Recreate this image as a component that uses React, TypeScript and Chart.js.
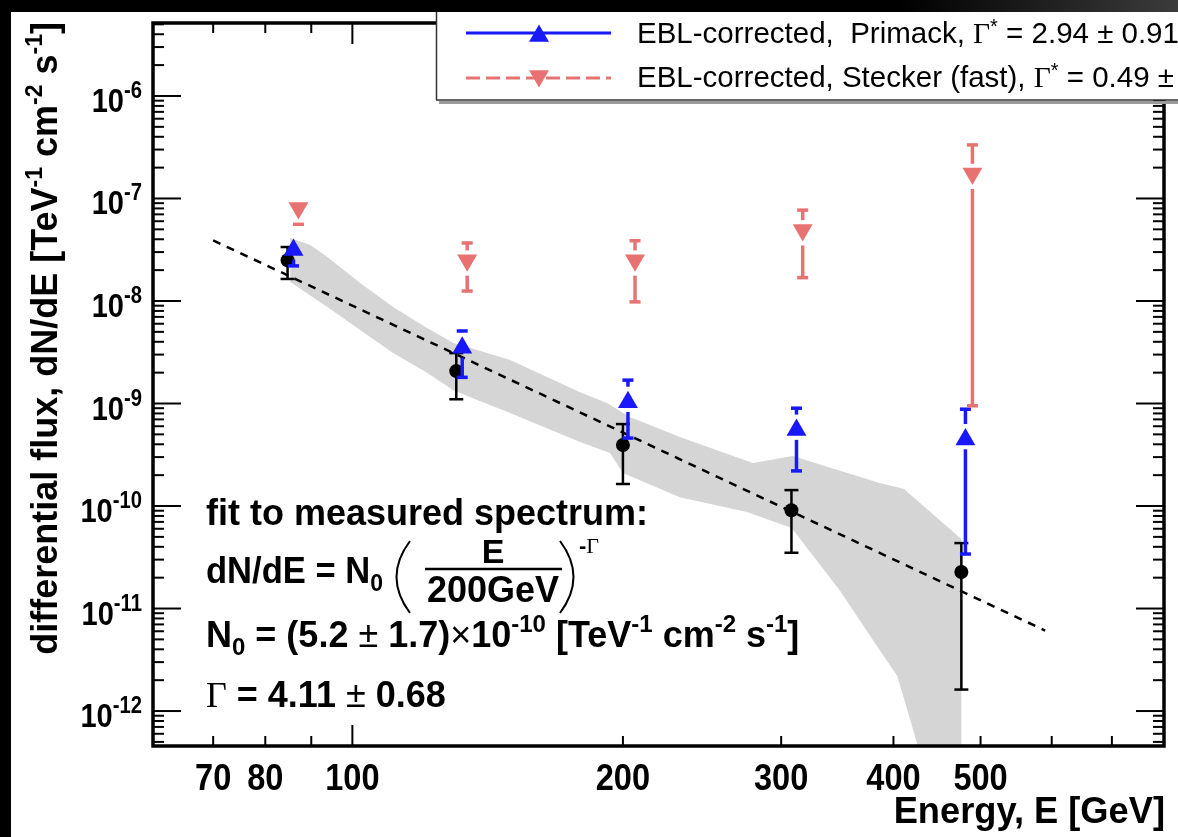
import React, { useEffect, useRef } from 'react';
import { Chart, registerables } from 'chart.js';

Chart.register(...registerables);

// ---------------- data ----------------
const measuredE = [84.7, 130.5, 200, 308, 476];
const measuredF = [2.5e-8, 2.07e-9, 3.94e-10, 9.1e-11, 2.27e-11];
const measuredLo = [1.64e-8, 1.1e-9, 1.64e-10, 3.5e-11, 1.62e-12];
const measuredHi = [3.36e-8, 3.1e-9, 6.3e-10, 1.43e-10, 4.35e-11];

const primackE = [86, 132.5, 202.6, 312, 481];
const primackF = [3.15e-8, 3.5e-9, 1.03e-9, 5.5e-10, 4.45e-10];
const primackLo = [2.2e-8, 1.8e-9, 4.6e-10, 2.2e-10, 3.4e-11];
const primackHi = [3.9e-8, 5.1e-9, 1.69e-9, 9.0e-10, 8.8e-10];

const steckerE = [87.1, 134.2, 206.3, 317, 489.7];
const steckerF = [8.07e-8, 2.5e-8, 2.5e-8, 4.93e-8, 1.75e-7];
const steckerLo = [5.6e-8, 1.25e-8, 9.8e-9, 1.69e-8, 9.5e-10];
const steckerHi = [9.0e-8, 3.68e-8, 3.87e-8, 7.7e-8, 3.33e-7];

const fitE = [70, 590];
const fitF = [3.9e-8, 6.1e-12];

const bandE = [
  85.3, 89.8, 93.8, 102, 111, 121.1, 129.5, 137.7, 149.8, 179.2, 192, 203.6, 231.4, 279, 309, 386, 410.6, 476, 476,
  427, 426, 404, 386, 348.5, 308.2, 274.8, 231.4, 200, 193.5, 179.2, 149.8, 137.7, 129.5, 121.1, 111, 102, 93.8, 85.3,
];
const bandF = [
  4.12e-8, 3.52e-8, 2.69e-8, 1.5e-8, 8.73e-9, 5.45e-9, 3.89e-9, 3.33e-9, 2.66e-9, 1.29e-9, 1.01e-9, 7.38e-10, 4.71e-10,
  2.63e-10, 3.08e-10, 1.68e-10, 1.47e-10, 4.76e-11, 1e-13,
  1e-13, 4.5e-13, 2.2e-12, 3.94e-12, 1.51e-11, 6.1e-11, 8.73e-11, 1.22e-10, 2.1e-10, 3.29e-10, 4.21e-10, 8.07e-10, 1.08e-9,
  1.35e-9, 1.99e-9, 3.11e-9, 5.21e-9, 8.73e-9, 1.53e-8,
];

const xMin = 60;
const xMax = 800;
const yMin = 4.56e-13;
const yMax = 5.15e-6;

const xTickLabels = [70, 80, 100, 200, 300, 400, 500];
const xMinorTicks = [70, 80, 90, 200, 300, 400, 500, 600, 700];
const xMajorTicks = [100];
const yDecades = [-12, -11, -10, -9, -8, -7, -6];

const legendLabels = ['EBL-corrected,  Primack, ', 'EBL-corrected, Stecker (fast), '];
const legendValues = [' = 2.94 \u00b1 0.91', ' = 0.49 \u00b1'];

const RED = 'rgb(232,114,114)';
const BLUE = 'rgb(24,24,250)';
const GREY = 'rgb(213,213,213)';

// ---------------- helpers ----------------
type Run = { t: string; size: number; bold?: boolean; serif?: boolean; dy?: number };

const SANS = '"Liberation Sans", Arial, Helvetica, sans-serif';
const SERIF = '"Liberation Serif", "Times New Roman", serif';

function fontOf(r: Run) {
  return `${r.bold ? 'bold ' : ''}${r.size}px ${r.serif ? SERIF : SANS}`;
}

function drawRuns(
  ctx: CanvasRenderingContext2D,
  runs: Run[],
  x: number,
  y: number,
  align: 'left' | 'right' | 'center' = 'left',
  sx = 1,
) {
  let w = 0;
  for (const r of runs) {
    ctx.font = fontOf(r);
    w += ctx.measureText(r.t).width;
  }
  const W = w * sx;
  const start = align === 'right' ? x - W : align === 'center' ? x - W / 2 : x;
  ctx.save();
  ctx.translate(start, y);
  ctx.scale(sx, 1);
  ctx.textAlign = 'left';
  ctx.textBaseline = 'alphabetic';
  let cx = 0;
  for (const r of runs) {
    ctx.font = fontOf(r);
    ctx.fillText(r.t, cx, r.dy || 0);
    cx += ctx.measureText(r.t).width;
  }
  ctx.restore();
}

function seg(ctx: CanvasRenderingContext2D, x1: number, y1: number, x2: number, y2: number) {
  ctx.beginPath();
  ctx.moveTo(x1, y1);
  ctx.lineTo(x2, y2);
  ctx.stroke();
}

function tri(ctx: CanvasRenderingContext2D, cx: number, cy: number, r: number, down: boolean) {
  const s = down ? -1 : 1;
  ctx.beginPath();
  ctx.moveTo(cx, cy - s * r);
  ctx.lineTo(cx + r * 0.866, cy + s * r * 0.5);
  ctx.lineTo(cx - r * 0.866, cy + s * r * 0.5);
  ctx.closePath();
  ctx.fill();
}

const TRI_R = 11.5;

const errSeries: Record<number, any> = {
  0: { E: steckerE, lo: steckerLo, hi: steckerHi, F: steckerF, color: RED, lw: 3.5, cap: 11, gapAbove: TRI_R * 0.5 + 4, gapBelow: TRI_R + 4 },
  1: { E: primackE, lo: primackLo, hi: primackHi, F: primackF, color: BLUE, lw: 3.5, cap: 11, gapAbove: TRI_R + 4, gapBelow: TRI_R * 0.5 + 4 },
  2: { E: measuredE, lo: measuredLo, hi: measuredHi, F: measuredF, color: '#000', lw: 2.5, cap: 14, gapAbove: 0, gapBelow: 0 },
};

const bgPlugin = {
  id: 'bg',
  beforeDraw(chart: any) {
    const ctx = chart.ctx as CanvasRenderingContext2D;
    const W = chart.width;
    const H = chart.height;
    ctx.save();
    ctx.fillStyle = '#000';
    ctx.fillRect(0, 0, W, H);
    const g = ctx.createLinearGradient(900, 0, W, 0);
    g.addColorStop(0, '#000');
    g.addColorStop(1, '#3c3c3c');
    ctx.fillStyle = g;
    ctx.fillRect(900, 0, W - 900, 12);
    ctx.fillStyle = '#fff';
    ctx.fillRect(11, 12, W - 11, H - 12);
    ctx.restore();
  },
};

const errPlugin = {
  id: 'errbars',
  beforeDatasetDraw(chart: any, args: any) {
    const s = errSeries[args.index];
    if (!s) return;
    const ctx = chart.ctx as CanvasRenderingContext2D;
    const xs = chart.scales.x;
    const ys = chart.scales.y;
    ctx.save();
    ctx.strokeStyle = s.color;
    ctx.lineWidth = s.lw;
    ctx.lineCap = 'butt';
    for (let i = 0; i < s.E.length; i++) {
      const px = xs.getPixelForValue(s.E[i]);
      const py = ys.getPixelForValue(s.F[i]);
      const pHi = ys.getPixelForValue(s.hi[i]);
      const pLo = ys.getPixelForValue(s.lo[i]);
      const gTop = py - s.gapAbove;
      const gBot = py + s.gapBelow;
      if (pHi < gTop) {
        seg(ctx, px, pHi, px, gTop);
        seg(ctx, px - s.cap / 2, pHi, px + s.cap / 2, pHi);
      }
      if (pLo > gBot) {
        seg(ctx, px, gBot, px, pLo);
        seg(ctx, px - s.cap / 2, pLo, px + s.cap / 2, pLo);
      }
    }
    ctx.restore();
  },
};

const decoPlugin = {
  id: 'deco',
  afterDraw(chart: any) {
    const ctx = chart.ctx as CanvasRenderingContext2D;
    const ca = chart.chartArea;
    const xs = chart.scales.x;
    const ys = chart.scales.y;
    ctx.save();
    ctx.strokeStyle = '#000';
    ctx.fillStyle = '#000';

    // y ticks
    ctx.lineWidth = 2;
    for (let n = -13; n <= -5; n++) {
      for (let m = 1; m <= 9; m++) {
        const v = m * Math.pow(10, n);
        if (v < yMin || v > yMax) continue;
        const py = ys.getPixelForValue(v);
        const len = m === 1 ? 28 : 11;
        seg(ctx, ca.left, py, ca.left + len, py);
        seg(ctx, ca.right, py, ca.right - len, py);
      }
    }
    // x ticks
    for (const v of xMinorTicks) {
      const px = xs.getPixelForValue(v);
      seg(ctx, px, ca.bottom, px, ca.bottom - 10);
      seg(ctx, px, ca.top, px, ca.top + 10);
    }
    for (const v of xMajorTicks) {
      const px = xs.getPixelForValue(v);
      seg(ctx, px, ca.bottom, px, ca.bottom - 21);
      seg(ctx, px, ca.top, px, ca.top + 21);
    }
    // frame
    ctx.lineWidth = 3.5;
    ctx.strokeRect(ca.left, ca.top, ca.right - ca.left, ca.bottom - ca.top);

    // y tick labels
    for (const d of yDecades) {
      const py = ys.getPixelForValue(Math.pow(10, d));
      drawRuns(ctx, [
        { t: '10', size: 33, bold: true },
        { t: String(d), size: 23, bold: true, dy: -14 },
      ], 142, py + 16, 'right', 0.88);
    }
    // x tick labels
    for (const v of xTickLabels) {
      const px = xs.getPixelForValue(v);
      drawRuns(ctx, [{ t: String(v), size: 37, bold: true }], px, 790, 'center', 0.88);
    }
    // axis titles
    drawRuns(ctx, [{ t: 'Energy, E [GeV]', size: 37, bold: true }], 1165, 823, 'right', 0.98);
    ctx.save();
    ctx.translate(57, 22);
    ctx.rotate(-Math.PI / 2);
    drawRuns(ctx, [
      { t: 'differential flux, dN/dE [TeV', size: 36, bold: true },
      { t: '-1', size: 23, bold: true, dy: -15 },
      { t: ' cm', size: 36, bold: true },
      { t: '-2', size: 23, bold: true, dy: -15 },
      { t: ' s', size: 36, bold: true },
      { t: '-1', size: 23, bold: true, dy: -15 },
      { t: ']', size: 36, bold: true },
    ], 0, 0, 'right', 1.0);
    ctx.restore();

    // fit text block
    ctx.fillStyle = '#000';
    drawRuns(ctx, [{ t: 'fit to measured spectrum:', size: 36, bold: true }], 206, 525);
    drawRuns(ctx, [
      { t: 'dN/dE = N', size: 36, bold: true },
      { t: '0', size: 24, bold: true, dy: 8 },
    ], 206, 583, 'left', 0.96);
    ctx.lineWidth = 2;
    ctx.beginPath();
    ctx.moveTo(410, 541);
    ctx.quadraticCurveTo(383, 577, 410, 613);
    ctx.stroke();
    ctx.beginPath();
    ctx.moveTo(560, 541);
    ctx.quadraticCurveTo(587, 577, 560, 613);
    ctx.stroke();
    ctx.lineWidth = 2.5;
    seg(ctx, 425, 569, 562, 569);
    drawRuns(ctx, [{ t: 'E', size: 34, bold: true }], 493, 563, 'center');
    drawRuns(ctx, [{ t: '200GeV', size: 36, bold: true }], 493, 602, 'center');
    drawRuns(ctx, [
      { t: '-', size: 22, bold: true },
      { t: '\u0393', size: 22, serif: true },
    ], 579, 553);
    drawRuns(ctx, [
      { t: 'N', size: 36, bold: true },
      { t: '0', size: 24, bold: true, dy: 8 },
      { t: ' = (5.2 ', size: 36, bold: true },
      { t: '\u00b1', size: 36 },
      { t: ' 1.7)', size: 36, bold: true },
      { t: '\u00d7', size: 36 },
      { t: '10', size: 36, bold: true },
      { t: '-10', size: 24, bold: true, dy: -15 },
      { t: ' [TeV', size: 36, bold: true },
      { t: '-1', size: 24, bold: true, dy: -15 },
      { t: ' cm', size: 36, bold: true },
      { t: '-2', size: 24, bold: true, dy: -15 },
      { t: ' s', size: 36, bold: true },
      { t: '-1', size: 24, bold: true, dy: -15 },
      { t: ']', size: 36, bold: true },
    ], 206, 647);
    drawRuns(ctx, [
      { t: '\u0393', size: 36, serif: true },
      { t: ' = 4.11 ', size: 36, bold: true },
      { t: '\u00b1', size: 36 },
      { t: ' 0.68', size: 36, bold: true },
    ], 206, 707);

    // legend box
    ctx.fillStyle = '#fff';
    ctx.fillRect(436, 12, chart.width - 436, 88);
    ctx.strokeStyle = '#333';
    ctx.lineWidth = 1.5;
    seg(ctx, 436.5, 12, 436.5, 100);
    seg(ctx, 436, 100, chart.width, 100);
    ctx.fillStyle = '#9a9a9a';
    ctx.fillRect(439, 101, chart.width - 439, 3);

    // legend entry 1 (Primack)
    ctx.strokeStyle = BLUE;
    ctx.fillStyle = BLUE;
    ctx.lineWidth = 3;
    seg(ctx, 466, 33, 611, 33);
    tri(ctx, 539, 36, TRI_R, false);
    // legend entry 2 (Stecker)
    ctx.strokeStyle = RED;
    ctx.fillStyle = RED;
    ctx.setLineDash([14, 6]);
    seg(ctx, 466, 78, 611, 78);
    ctx.setLineDash([]);
    tri(ctx, 539, 76, TRI_R, true);

    ctx.fillStyle = '#000';
    for (let i = 0; i < 2; i++) {
      drawRuns(ctx, [
        { t: legendLabels[i], size: 29.5 },
        { t: '\u0393', size: 29.5, serif: true },
        { t: '*', size: 20, dy: -10 },
        { t: legendValues[i], size: 29.5 },
      ], 637, i === 0 ? 43 : 87);
    }
    ctx.restore();
  },
};

export default function App() {
  const ref = useRef<HTMLCanvasElement>(null);
  useEffect(() => {
    document.body.style.margin = '0';
    document.body.style.background = '#000';
    const canvas = ref.current;
    if (!canvas) return;
    const pts = (xs: number[], ys: number[]) => xs.map((x, i) => ({ x, y: ys[i] }));
    const chart = new Chart(canvas, {
      type: 'line',
      data: {
        datasets: [
          {
            label: 'Stecker',
            data: pts(steckerE, steckerF),
            showLine: false,
            pointStyle: 'triangle',
            pointRotation: 180,
            pointRadius: TRI_R,
            pointBackgroundColor: RED,
            pointBorderWidth: 0,
            pointBorderColor: RED,
          },
          {
            label: 'Primack',
            data: pts(primackE, primackF),
            showLine: false,
            pointStyle: 'triangle',
            pointRadius: TRI_R,
            pointBackgroundColor: BLUE,
            pointBorderWidth: 0,
            pointBorderColor: BLUE,
          },
          {
            label: 'measured',
            data: pts(measuredE, measuredF),
            showLine: false,
            pointStyle: 'circle',
            pointRadius: 7,
            pointBackgroundColor: '#000',
            pointBorderWidth: 0,
            pointBorderColor: '#000',
          },
          {
            label: 'fit',
            data: pts(fitE, fitF),
            showLine: true,
            borderColor: '#000',
            borderWidth: 2.5,
            borderDash: [8, 7],
            pointRadius: 0,
            fill: false,
            tension: 0,
          },
          {
            label: 'band',
            data: pts(bandE, bandF),
            showLine: true,
            borderColor: 'rgba(0,0,0,0)',
            borderWidth: 0.01,
            backgroundColor: GREY,
            fill: 'shape',
            pointRadius: 0,
            tension: 0,
          },
        ] as any,
      },
      options: {
        responsive: false,
        animation: false,
        events: [],
        layout: { padding: { left: 153, right: 14, top: 23, bottom: 91 } },
        scales: {
          x: { type: 'logarithmic', min: xMin, max: xMax, display: false },
          y: { type: 'logarithmic', min: yMin, max: yMax, display: false },
        },
        plugins: { legend: { display: false }, tooltip: { enabled: false } },
      } as any,
      plugins: [bgPlugin, errPlugin, decoPlugin],
    });
    return () => chart.destroy();
  }, []);
  return <canvas ref={ref} width={1178} height={837} style={{ display: 'block' }} />;
}
